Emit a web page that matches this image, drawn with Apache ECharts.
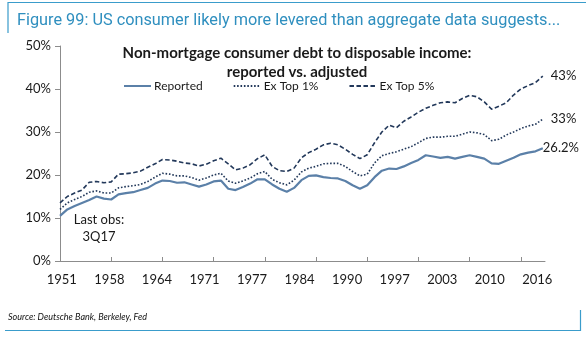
<!DOCTYPE html>
<html>
<head>
<meta charset="utf-8">
<script src="https://cdn.jsdelivr.net/npm/echarts@6/dist/echarts.min.js"></script>
<style>
  html, body { margin: 0; padding: 0; background: #fff; }
  #chart { width: 586px; height: 339px; }
</style>
</head>
<body>
<div id="chart"></div>
<script>
// Annual observations, non-mortgage consumer debt as % of disposable income
const years = [
  1951, 1952, 1953, 1954, 1955, 1956, 1957, 1958, 1959, 1960,
  1961, 1962, 1963, 1964, 1965, 1966, 1967, 1968, 1969, 1970,
  1971, 1972, 1973, 1974, 1975, 1976, 1977, 1978, 1979, 1980,
  1981, 1982, 1983, 1984, 1985, 1986, 1987, 1988, 1989, 1990,
  1991, 1992, 1993, 1994, 1995, 1996, 1997, 1998, 1999, 2000,
  2001, 2002, 2003, 2004, 2005, 2006, 2007, 2008, 2009, 2010,
  2011, 2012, 2013, 2014, 2015, 2016, 2017
];
const reported = [
  10.5, 12.0, 12.8, 13.5, 14.2, 15.0, 14.5, 14.3, 15.5, 15.8,
  16.0, 16.5, 17.0, 18.0, 18.7, 18.6, 18.2, 18.3, 17.8, 17.3,
  17.8, 18.5, 18.7, 16.8, 16.5, 17.2, 18.0, 19.0, 19.0, 17.8,
  16.8, 16.1, 17.0, 18.8, 19.8, 19.9, 19.5, 19.3, 19.2, 18.6,
  17.6, 16.8, 17.6, 19.5, 21.0, 21.5, 21.4, 22.0, 22.8, 23.5,
  24.6, 24.3, 24.0, 24.2, 23.8, 24.2, 24.6, 24.2, 23.8, 22.7,
  22.6, 23.3, 24.0, 24.8, 25.2, 25.5, 26.2
];
const exTop1 = [
  12.0, 13.5, 14.3, 15.0, 16.0, 16.3, 15.8, 15.8, 17.0, 17.3,
  17.5, 17.8, 18.5, 19.5, 20.4, 20.2, 19.8, 19.8, 19.4, 18.8,
  19.3, 20.0, 20.4, 18.6, 18.1, 18.6, 19.3, 20.3, 20.8, 19.0,
  18.2, 17.7, 18.8, 20.7, 21.6, 22.0, 22.6, 22.7, 22.7, 22.0,
  20.8, 19.8, 20.2, 22.8, 24.5, 25.0, 25.4, 26.0, 26.6, 27.5,
  28.5, 28.8, 28.8, 29.0, 29.0, 29.5, 30.0, 29.8, 29.4, 28.0,
  28.3, 29.3, 30.0, 30.8, 31.4, 31.8, 33.0
];
const exTop5 = [
  13.5, 15.0, 15.8, 16.5, 18.3, 18.5, 18.2, 18.4, 20.2, 20.3,
  20.5, 20.9, 21.8, 22.6, 23.6, 23.5, 23.2, 22.8, 22.6, 22.1,
  22.5, 23.3, 23.9, 22.6, 21.2, 21.6, 22.4, 23.8, 24.7, 22.0,
  21.0, 20.8, 21.6, 24.0, 25.2, 26.0, 27.0, 27.4, 27.0, 26.0,
  24.8, 23.8, 24.7, 27.5, 30.0, 31.6, 31.0, 32.5, 33.5, 34.6,
  35.5, 36.2, 36.8, 37.0, 36.8, 37.8, 38.5, 38.2, 37.0, 35.3,
  36.0, 36.8, 38.6, 40.0, 40.8, 41.5, 43.0
];

// Axis labels every 6.5 years, tick marks every 7 years
const yearLabels = ['1951', '1958', '1964', '1971', '1977', '1984', '1990', '1997', '2003', '2010', '2016'];
const yearLabelAt = [1951.25, 1957.75, 1964.25, 1970.75, 1977.25, 1983.75, 1990.25, 1996.75, 2003.25, 2009.75, 2016.25];
const yearTickAt = [1951, 1958, 1965, 1972, 1979, 1986, 1993, 2000, 2007, 2014];

const seriesNames = ['Reported', 'Ex Top 1%', 'Ex Top 5%'];

const FONT = 'Lato, "Open Sans", sans-serif';
const TEAL = '#3a9ccb';

const pairs = vals => years.map((y, i) => [y, vals[i]]);
const pct = v => (Math.round(v * 10) / 10) + '%';

const chart = echarts.init(document.getElementById('chart'), null, { renderer: 'canvas' });

chart.setOption({
  animation: false,
  backgroundColor: '#ffffff',
  title: [
    {
      text: 'Figure 99: US consumer likely more levered than aggregate data suggests...',
      left: 12, top: 8,
      textStyle: { color: '#2f8fbf', fontFamily: 'Roboto, sans-serif', fontSize: 16.3, fontWeight: 'normal' }
    },
    {
      text: 'Non-mortgage consumer debt to disposable income:\nreported vs. adjusted',
      left: 292, top: 39, textAlign: 'center',
      textStyle: { color: '#1a1a1a', fontFamily: FONT, fontSize: 15, fontWeight: 'bold', lineHeight: 19 }
    }
  ],
  legend: {
    data: seriesNames,
    left: 118, top: 75,
    itemWidth: 27, itemHeight: 10, itemGap: 30,
    itemStyle: { opacity: 0 },
    textStyle: { color: '#1a1a1a', fontFamily: FONT, fontSize: 12, padding: [0, 0, 0, -2] }
  },
  grid: { left: 60, right: 41, top: 46, bottom: 78, containLabel: false },
  xAxis: {
    type: 'value',
    min: 1951, max: 2017.3,
    axisLine: { show: true, lineStyle: { color: '#8c8c8c', width: 1 } },
    axisTick: { show: true, inside: true, length: 4, customValues: yearTickAt, lineStyle: { color: '#8c8c8c' } },
    axisLabel: {
      customValues: yearLabelAt,
      formatter: v => yearLabels[yearLabelAt.indexOf(v)] || '',
      margin: 12,
      color: '#1a1a1a', fontFamily: FONT, fontSize: 13
    },
    splitLine: { show: false }
  },
  yAxis: {
    type: 'value',
    min: 0, max: 50, interval: 10,
    axisLine: { show: true, lineStyle: { color: '#8c8c8c', width: 1 } },
    axisTick: { show: true, length: 5, lineStyle: { color: '#8c8c8c' } },
    axisLabel: { formatter: v => v + '%', margin: 9, color: '#1a1a1a', fontFamily: FONT, fontSize: 13 },
    splitLine: { show: false }
  },
  series: [
    {
      name: seriesNames[0], type: 'line', data: pairs(reported),
      symbol: 'none', z: 3,
      lineStyle: { color: '#5b80a8', width: 2.2, type: 'solid' },
      itemStyle: { color: '#5b80a8' },
      endLabel: { show: true, formatter: p => pct(p.value[1]), distance: 0, offset: [0, -1],
        color: '#1a1a1a', fontFamily: FONT, fontSize: 13 }
    },
    {
      name: seriesNames[1], type: 'line', data: pairs(exTop1),
      symbol: 'none', z: 2,
      lineStyle: { color: '#22385a', width: 1.6, type: [1.6, 1.8] },
      itemStyle: { color: '#22385a' },
      endLabel: { show: true, formatter: p => pct(p.value[1]), distance: 8,
        color: '#1a1a1a', fontFamily: FONT, fontSize: 13 }
    },
    {
      name: seriesNames[2], type: 'line', data: pairs(exTop5),
      symbol: 'none', z: 2,
      lineStyle: { color: '#22385a', width: 1.6, type: [4.5, 2.5] },
      itemStyle: { color: '#22385a' },
      endLabel: { show: true, formatter: p => pct(p.value[1]), distance: 8,
        color: '#1a1a1a', fontFamily: FONT, fontSize: 13 }
    }
  ],
  graphic: [
    // bracket frame: top-left corner and bottom-right corner
    { type: 'polyline', shape: { points: [[8, 33], [8, 2.5], [586, 2.5]] },
      style: { stroke: TEAL, lineWidth: 1.2, fill: null }, silent: true },
    { type: 'polyline', shape: { points: [[5, 330.5], [580.5, 330.5], [580.5, 310]] },
      style: { stroke: TEAL, lineWidth: 1.2, fill: null }, silent: true },
    { type: 'text', left: 8, top: 313,
      style: { text: 'Source: Deutsche Bank, Berkeley, Fed', fill: '#111', font: 'italic 9px ' + FONT } },
    { type: 'text', x: 99, y: 211,
      style: { text: 'Last obs:\n3Q17', fill: '#1a1a1a', font: '13px ' + FONT, align: 'center', lineHeight: 17 } }
  ]
});
</script>
</body>
</html>
